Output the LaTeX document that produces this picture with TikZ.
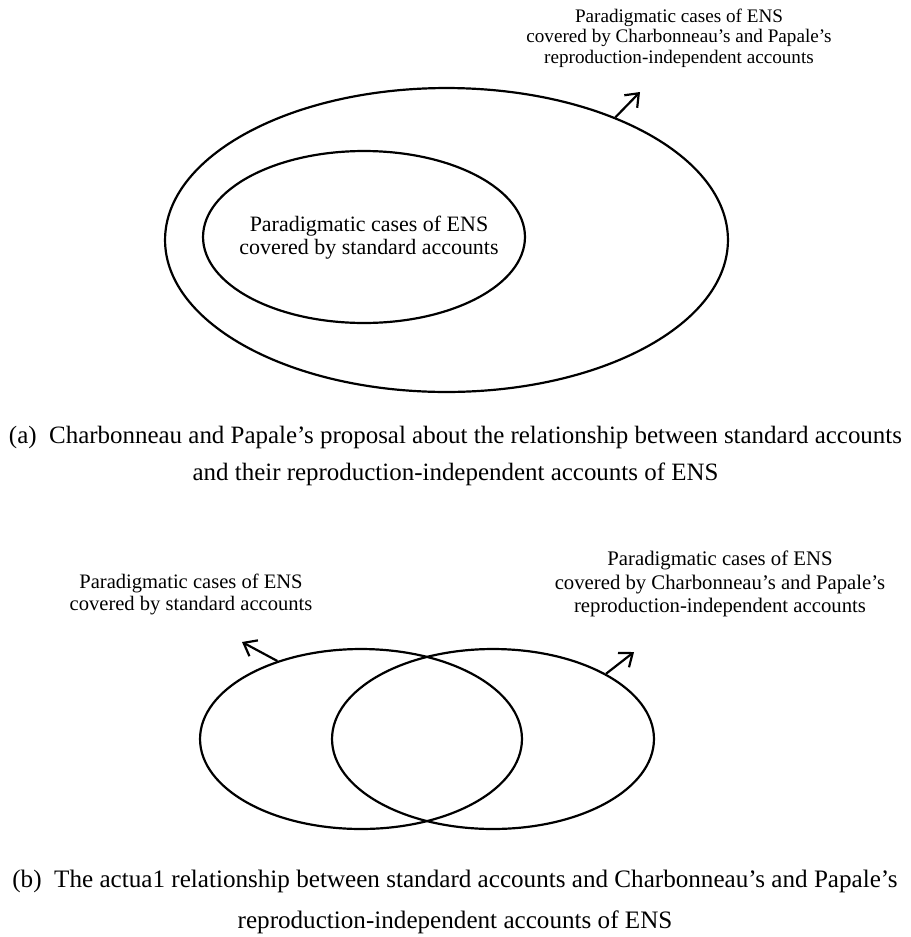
\documentclass[tikz,border=0pt]{standalone}
\usepackage{fontspec}
\setmainfont{Liberation Serif}
\usetikzlibrary{shapes.geometric,arrows.meta,positioning}

\begin{document}
\begin{tikzpicture}[x=0.02cm, y=-0.02cm,
    set/.style={draw, ellipse, line width=1.25pt, inner sep=0pt},
    lbl/.style={align=center, inner sep=0pt},
    arr/.style={-{Straight Barb[length=2.3mm, width=3.6mm]}, line width=1.25pt}]
\useasboundingbox (0,0) rectangle (911,937);

% ==== (a) nested sets ====
\node[set, minimum width=11.26cm, minimum height=6.08cm] (outer) at (446.5,240) {};
\node[set, minimum width=6.44cm, minimum height=3.44cm] (inner) at (364,237) {};
\node[lbl, font=\fontsize{12.5}{13.2}\selectfont] (innerlbl) at (369,238)
    {Paradigmatic cases of ENS\\covered by standard accounts};
\node[lbl, font=\fontsize{10.9}{11.6}\selectfont] (outerlbl) at (679,38)
    {Paradigmatic cases of ENS\\covered by Charbonneau's and Papale's\\reproduction-independent accounts};
\coordinate (tipA) at (640,92);
\draw[arr] (outer.36) -- (tipA);

\node[lbl, font=\fontsize{14.2}{21}\selectfont] (capA) at (455.5,456)
    {(a)\enspace Charbonneau and Papale's proposal about the relationship between standard accounts\\
     and their reproduction-independent accounts of ENS};

% ==== (b) overlapping sets ====
\node[set, minimum width=6.44cm, minimum height=3.6cm] (std) at (361,739) {};
\node[set, minimum width=6.44cm, minimum height=3.6cm] (ri) at (493,739) {};
\node[lbl, font=\fontsize{11.7}{12.5}\selectfont] (stdlbl) at (191,594)
    {Paradigmatic cases of ENS\\covered by standard accounts};
\node[lbl, font=\fontsize{11.8}{13.3}\selectfont] (rilbl) at (720,584)
    {Paradigmatic cases of ENS\\covered by Charbonneau's and Papale's\\reproduction-independent accounts};
\coordinate (tipL) at (242,642);
\coordinate (tipR) at (634,652);
\draw[arr] (std.137) -- (tipL);
\draw[arr] (ri.30) -- (tipR);

\node[lbl, font=\fontsize{14.3}{23}\selectfont] (capB) at (455,902)
    {(b)\enspace The actua1 relationship between standard accounts and Charbonneau's and Papale's\\
     reproduction-independent accounts of ENS};
\end{tikzpicture}
\end{document}
